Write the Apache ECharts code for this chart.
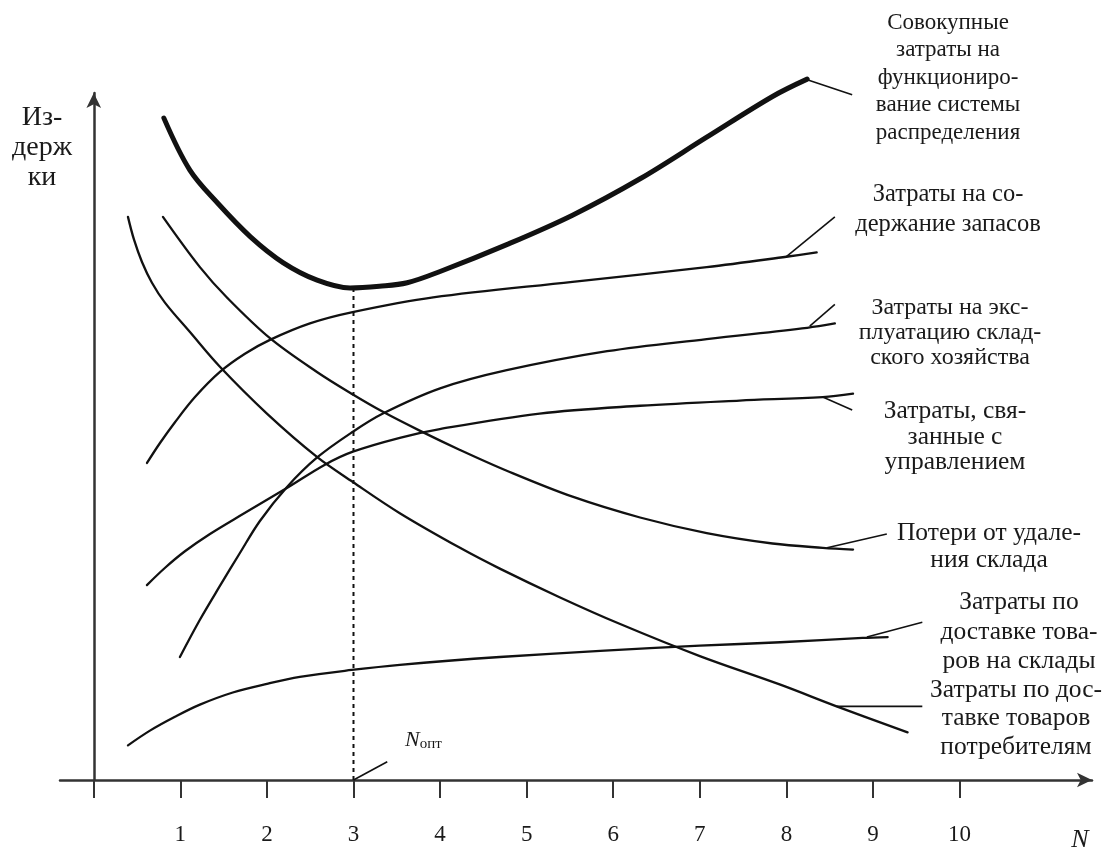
<!DOCTYPE html>
<html>
<head>
<meta charset="utf-8">
<script src="https://cdn.jsdelivr.net/npm/echarts@6/dist/echarts.min.js"></script>
<style>
html,body{margin:0;padding:0;background:#fff;}
#chart{width:1108px;height:850px;}
</style>
</head>
<body>
<div id="chart"></div>
<script>
// ---- Data (arbitrary cost units) ----
const xTickValues = [0, 1, 2, 3, 4, 5, 6, 7, 8, 9, 10];
const xTickLabels = [1, 2, 3, 4, 5, 6, 7, 8, 9, 10];

const totalCosts = [[0.81,7.64],[1.11,7.04],[1.43,6.66],[1.81,6.27],[2.19,5.97],[2.58,5.77],[2.96,5.68],[3.3,5.70],[3.62,5.74],[4.0,5.87],[4.77,6.18],[5.53,6.52],[6.31,6.94],[7.08,7.42],[7.84,7.89],[8.24,8.09]];
const inventoryCosts = [[0.615,3.66],[0.765,3.89],[0.938,4.13],[1.169,4.42],[1.457,4.71],[1.746,4.92],[2.035,5.08],[2.497,5.27],[2.99,5.40],[3.92,5.57],[5.53,5.75],[7.08,5.92],[8.0,6.04],[8.35,6.09]];
const warehouseOpsCosts = [[0.995,1.42],[1.226,1.85],[1.457,2.24],[1.688,2.62],[1.919,2.99],[2.23,3.38],[2.577,3.72],[2.993,4.02],[3.34,4.23],[4.0,4.52],[4.77,4.73],[5.93,4.95],[7.08,5.09],[8.24,5.22],[8.56,5.27]];
const managementCosts = [[0.614,2.25],[0.824,2.45],[1.053,2.64],[1.342,2.84],[1.723,3.07],[2.23,3.37],[2.67,3.64],[2.993,3.79],[3.535,3.95],[3.997,4.05],[5.15,4.23],[6.31,4.32],[7.46,4.38],[8.42,4.42],[8.77,4.46]];
const remotenessLosses = [[0.799,6.50],[1.226,5.92],[1.538,5.57],[2.035,5.10],[2.578,4.71],[2.993,4.45],[3.34,4.25],[3.77,4.03],[4.23,3.81],[4.77,3.57],[5.53,3.27],[6.31,3.03],[7.08,2.85],[7.84,2.73],[8.42,2.68],[8.77,2.66]];
const deliveryToConsumers = [[0.395,6.50],[0.464,6.24],[0.557,5.98],[0.672,5.74],[0.822,5.51],[1.111,5.17],[1.457,4.77],[2.0,4.23],[2.578,3.73],[2.993,3.44],[3.535,3.08],[4.23,2.68],[4.69,2.44],[5.38,2.11],[6.08,1.80],[7.0,1.43],[7.93,1.10],[8.58,0.85],[9.40,0.55]];
const deliveryToWarehouses = [[0.395,0.40],[0.649,0.57],[0.938,0.73],[1.226,0.87],[1.606,1.01],[2.0,1.11],[2.38,1.19],[2.98,1.27],[3.535,1.33],[4.69,1.42],[5.85,1.49],[7.0,1.55],[7.93,1.59],[8.88,1.64],[9.17,1.65]];

const optimumN = 3;
const optimumCost = 5.68;

// leader lines (data units): curve point -> label
const leaderTotal = [[8.25,8.08],[8.76,7.91]];
const leaderInventory = [[8.0,6.04],[8.56,6.50]];
const leaderWarehouseOps = [[8.27,5.24],[8.56,5.49]];
const leaderManagement = [[8.42,4.42],[8.76,4.27]];
const leaderRemoteness = [[8.47,2.68],[9.16,2.84]];
const leaderToWarehouses = [[8.93,1.65],[9.57,1.82]];
const leaderToConsumers = [[8.58,0.85],[9.57,0.85]];
const leaderOptimum = [[3.0,0],[3.39,0.21]];

const curveLabels = [
  'Совокупные\nзатраты на\nфункциониро-\nвание системы\nраспределения',
  'Затраты на со-\nдержание запасов',
  'Затраты на экс-\nплуатацию склад-\nского хозяйства',
  'Затраты, свя-\nзанные с\nуправлением',
  'Потери от удале-\nния склада',
  'Затраты по\nдоставке това-\nров на склады',
  'Затраты по дос-\nтавке товаров\nпотребителям'
];
const yAxisTitle = 'Из-\nдерж\nки';
const xAxisTitle = 'N';

// ---- Chart ----
const FONT = '"Liberation Serif", "Times New Roman", serif';
const INK = '#111';

function curve(data, width) {
  return {
    type: 'line', data: data, smooth: 0.35, showSymbol: false, clip: false, silent: true,
    lineStyle: { color: INK, width: width, cap: 'round', join: 'round' }, z: 3
  };
}
function leader(data) {
  return {
    type: 'line', data: data, smooth: false, showSymbol: false, clip: false, silent: true,
    lineStyle: { color: INK, width: 1.6 }, z: 3
  };
}

const series = [
  curve(totalCosts, 5),
  curve(inventoryCosts, 2.3),
  curve(warehouseOpsCosts, 2.3),
  curve(managementCosts, 2.3),
  curve(remotenessLosses, 2.3),
  curve(deliveryToConsumers, 2.3),
  curve(deliveryToWarehouses, 2.3),
  leader(leaderTotal), leader(leaderInventory), leader(leaderWarehouseOps),
  leader(leaderManagement), leader(leaderRemoteness), leader(leaderToWarehouses),
  leader(leaderToConsumers), leader(leaderOptimum),
  {
    type: 'line', data: [[optimumN, 0], [optimumN, optimumCost]], showSymbol: false, silent: true,
    lineStyle: { color: INK, width: 2, type: [4, 4] }, z: 2
  }
];

const labelBoxes = [
  { x: 948, y: 9, lh: 27.5, fs: 23 },
  { x: 948, y: 180, lh: 30, fs: 24.5 },
  { x: 950, y: 295, lh: 25, fs: 24 },
  { x: 955, y: 399, lh: 25.5, fs: 25.5 },
  { x: 989, y: 520, lh: 27, fs: 25.5 },
  { x: 1019, y: 588, lh: 29.5, fs: 25.5 },
  { x: 1016, y: 676, lh: 28.5, fs: 25.5 }
];

const graphic = curveLabels.map((t, i) => ({
  type: 'text', x: labelBoxes[i].x, y: labelBoxes[i].y, silent: true,
  style: { text: t, fill: '#1a1a1a', font: labelBoxes[i].fs + 'px ' + FONT, textAlign: 'center', textVerticalAlign: 'top', lineHeight: labelBoxes[i].lh }
}));
graphic.push({
  type: 'text', x: 42, y: 103, silent: true,
  style: { text: yAxisTitle, fill: '#1a1a1a', font: '28px ' + FONT, textAlign: 'center', textVerticalAlign: 'top', lineHeight: 30 }
});
graphic.push({
  type: 'text', x: 1080, y: 840, silent: true,
  style: { text: xAxisTitle, fill: '#1a1a1a', font: 'italic 26px ' + FONT, textAlign: 'center', textVerticalAlign: 'middle' }
});
graphic.push({
  type: 'text', x: 405, y: 740, silent: true,
  style: {
    text: '{n|N}{s|опт}', textVerticalAlign: 'middle',
    rich: {
      n: { font: 'italic 22px ' + FONT, fill: '#1a1a1a' },
      s: { font: '15px ' + FONT, fill: '#1a1a1a', padding: [8, 0, 0, 0] }
    }
  }
});

const chart = echarts.init(document.getElementById('chart'), null, { renderer: 'canvas' });
chart.setOption({
  animation: false,
  backgroundColor: '#fff',
  grid: { left: 60, right: 16, top: 93, bottom: 70, containLabel: false },
  xAxis: {
    type: 'value', min: -0.39, max: 11.53,
    splitLine: { show: false },
    axisLine: { show: true, onZero: false, symbol: ['none', 'arrow'], symbolSize: [11, 15], lineStyle: { color: '#333', width: 2.5 } },
    axisTick: { show: true, customValues: xTickValues, length: 18, inside: false, lineStyle: { color: '#333', width: 2 } },
    axisLabel: { show: true, customValues: xTickLabels, margin: 43, fontFamily: FONT, fontSize: 23, color: '#1a1a1a' }
  },
  yAxis: {
    type: 'value', min: 0, max: 7.93,
    splitLine: { show: false },
    axisLine: { show: true, onZero: true, symbol: ['none', 'arrow'], symbolSize: [11, 15], lineStyle: { color: '#333', width: 2.5 } },
    axisTick: { show: false },
    axisLabel: { show: false }
  },
  series: series,
  graphic: graphic
});
</script>
</body>
</html>
